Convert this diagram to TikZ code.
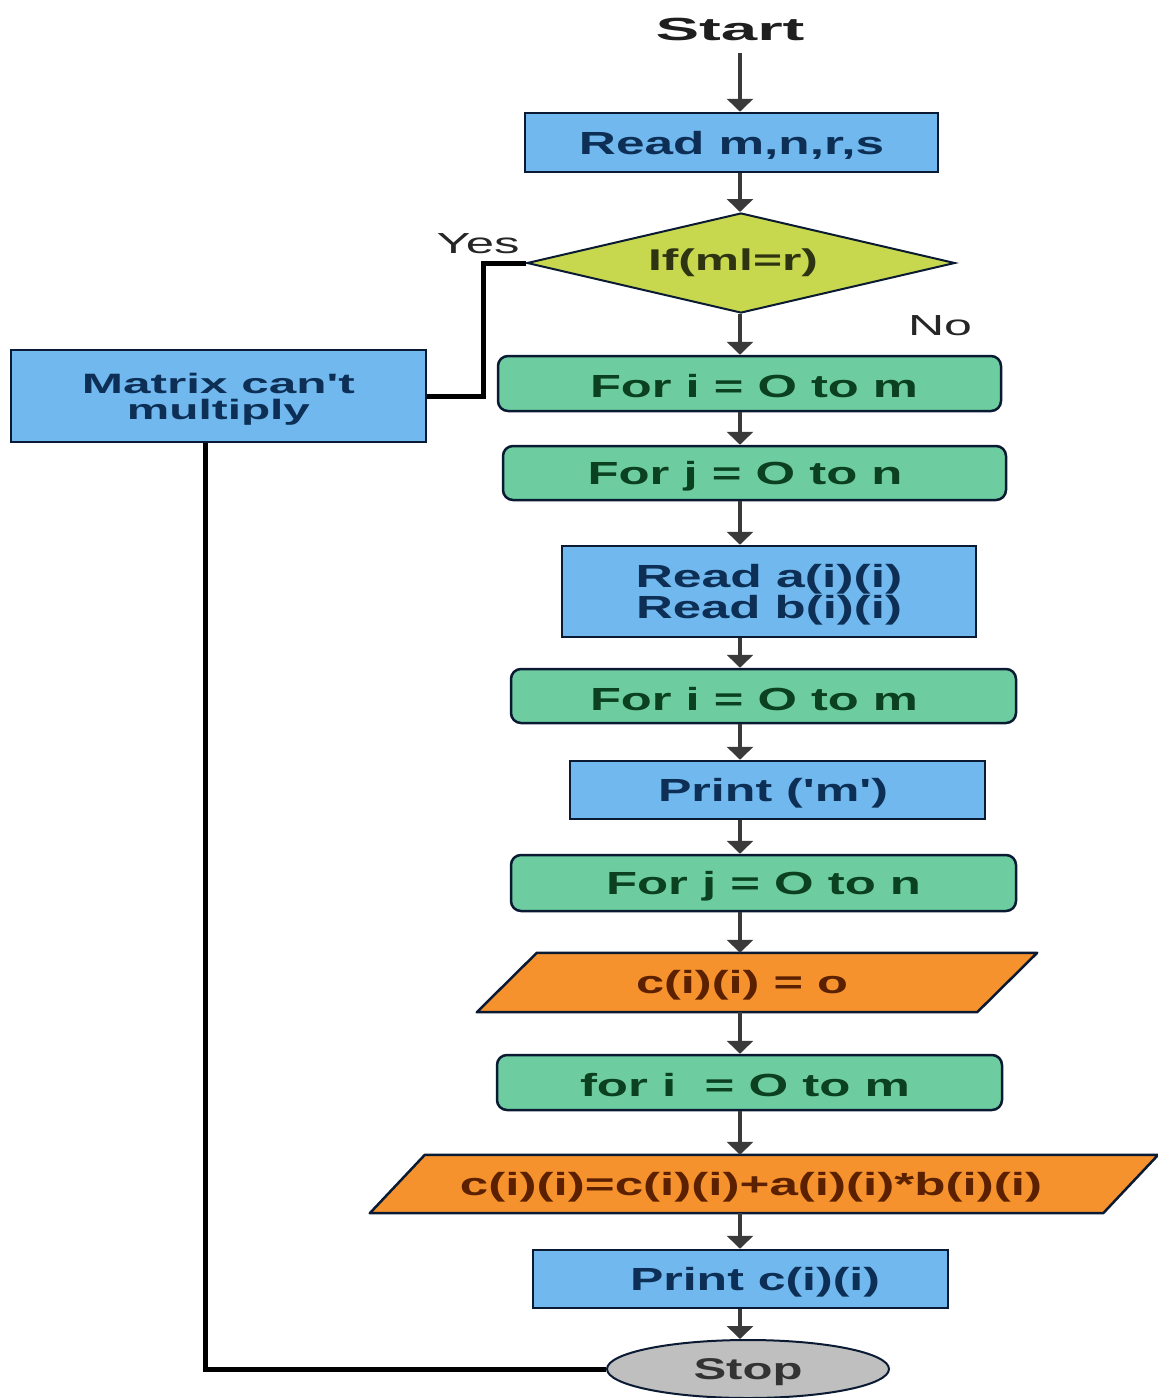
\documentclass[tikz,border=0pt]{standalone}
\usepackage{fontspec}
\setmainfont{Liberation Sans}
\usetikzlibrary{shapes.geometric,arrows.meta}
\definecolor{bfill}{HTML}{71B8EE}
\definecolor{gfill}{HTML}{6ECDA0}
\definecolor{yfill}{HTML}{C8D84E}
\definecolor{ofill}{HTML}{F5922E}
\definecolor{sfill}{HTML}{BFBFBF}
\definecolor{edge}{HTML}{0A1A33}
\definecolor{btext}{HTML}{0D2F55}
\definecolor{gtext}{HTML}{0B4020}
\definecolor{otext}{HTML}{5A2000}
\definecolor{ytext}{HTML}{2E3312}
\definecolor{arrc}{HTML}{3A3A3A}
\newcommand{\fw}[2]{\resizebox{#1pt}{\height}{#2}}
\newcommand{\fd}[2]{\raisebox{0pt}[\dimexpr\height+6pt\relax]{\resizebox{#1pt}{\height}{#2}}}
\newcommand{\sh}[2]{\ifdim#1pt>0pt\hspace*{#1pt}\hspace*{#1pt}\makebox[0pt]{#2}\else\makebox[0pt]{#2}\hspace*{-#1pt}\hspace*{-#1pt}\fi}
\tikzset{
  box/.style={rectangle, draw=edge, line width=2.5pt, inner sep=0pt, font=\fontsize{32}{28}\selectfont\bfseries},
  bluebox/.style={box, fill=bfill, text=btext},
  greenbox/.style={box, fill=gfill, text=gtext, rounded corners=10pt},
  orangebox/.style={rectangle, inner sep=0pt, text=otext, font=\fontsize{32}{28}\selectfont\bfseries},
  arr/.style={draw=arrc, line width=4pt, -{Triangle[width=26pt,length=13pt]}},
  thk/.style={draw=black, line width=5pt},
  lbl/.style={inner sep=0pt, font=\fontsize{29}{29}\selectfont, text=black!85}
}
\begin{document}
\begin{tikzpicture}[x=1pt,y=-1pt]
\useasboundingbox (0,0) rectangle (1158,1398);
\coordinate (sp) at (740,0);
\coordinate (yj) at (483,0);
\coordinate (sl) at (205,0);

\node[inner sep=0pt, font=\fontsize{32}{32}\selectfont\bfseries, text=black!88] (start) at (730,29) {\fw{149}{Start}};
\node[bluebox, minimum width=413pt, minimum height=59pt] (rd) at (731.5,142.5) {\fd{305}{Read m,n,r,s}};
\node[diamond, draw=edge, line width=2pt, fill=yfill, text=ytext, inner sep=0pt, minimum width=428pt, minimum height=100pt, font=\fontsize{30}{30}\selectfont\bfseries] (dec) at (741,263) {\sh{-8}{\fw{170}{If(ml=r)}}};
\node[lbl] (yes) at (478,244) {\fw{83}{Yes}};
\node[lbl] (no) at (940,326) {\fw{64}{No}};
\node[bluebox, minimum width=415pt, minimum height=92pt, align=center, font=\fontsize{28}{26}\selectfont\bfseries] (mx) at (218.5,396) {\rule{0pt}{26pt}\fw{273}{Matrix can\textquotesingle t}\\\fw{183}{multiply}};
\node[greenbox, minimum width=503pt, minimum height=55pt] (f1) at (749.5,383.5) {\sh{4.5}{\fd{328}{For i = O to m}}};
\node[greenbox, minimum width=503pt, minimum height=54pt] (f2) at (754.5,473) {\sh{-9.5}{\fd{315}{For j = O to n}}};
\node[bluebox, minimum width=414pt, minimum height=91pt, align=center] (rab) at (769,591.5) {\rule{0pt}{30pt}\fw{267}{Read a(i)(i)}\\\fw{266}{Read b(i)(i)}};
\node[greenbox, minimum width=505pt, minimum height=54pt] (f3) at (763.5,696) {\sh{-9.5}{\fd{328}{For i = O to m}}};
\node[bluebox, minimum width=415pt, minimum height=58pt] (pm) at (777.5,790) {\sh{-4.5}{\fd{230}{Print (\textquotesingle m\textquotesingle)}}};
\node[greenbox, minimum width=505pt, minimum height=56pt] (f4) at (763.5,883) {\fd{315}{For j = O to n}};
\node[orangebox, minimum width=560pt, minimum height=59pt] (c0) at (757,982.5) {};
\fill[ofill] ([xshift=60pt]c0.north west) -- (c0.north east) -- ([xshift=-60pt]c0.south east) -- (c0.south west) -- cycle;
\draw[edge, line width=2.5pt, line join=round] ([xshift=60pt]c0.north west) -- (c0.north east) -- ([xshift=-60pt]c0.south east) -- (c0.south west) -- cycle;
\node[orangebox, minimum width=560pt, minimum height=59pt] at (c0.center) {\sh{-15}{\fd{212}{c(i)(i) = o}}};
\node[greenbox, minimum width=505pt, minimum height=55pt] (f5) at (749.5,1082.5) {\sh{-4.5}{\fd{330}{for i \ = O to m}}};
\node[orangebox, minimum width=788pt, minimum height=58pt] (c1) at (764,1184) {};
\fill[ofill] ([xshift=55pt]c1.north west) -- (c1.north east) -- ([xshift=-55pt]c1.south east) -- (c1.south west) -- cycle;
\draw[edge, line width=2.5pt, line join=round] ([xshift=55pt]c1.north west) -- (c1.north east) -- ([xshift=-55pt]c1.south east) -- (c1.south west) -- cycle;
\node[orangebox, minimum width=788pt, minimum height=58pt] at (c1.center) {\sh{-13}{\fd{582}{c(i)(i)=c(i)(i)+a(i)(i)*b(i)(i)}}};
\node[bluebox, minimum width=415pt, minimum height=58pt] (pc) at (740.5,1279) {\sh{14.5}{\fd{250}{Print c(i)(i)}}};
\node[ellipse, draw=edge, line width=2pt, fill=sfill, text=black!80, inner sep=0pt, minimum width=282pt, minimum height=58pt, font=\fontsize{30}{30}\selectfont\bfseries] (st) at (748,1369) {\fd{109}{Stop}};

\draw[arr, shorten <=12pt] (start.south -| sp) -- (rd.north -| sp);
\draw[arr] (rd.south -| sp) -- (dec.north -| sp);
\draw[arr] (dec.south -| sp) -- (f1.north -| sp);
\draw[arr] (f1.south -| sp) -- (f2.north -| sp);
\draw[arr] (f2.south -| sp) -- (rab.north -| sp);
\draw[arr] (rab.south -| sp) -- (f3.north -| sp);
\draw[arr] (f3.south -| sp) -- (pm.north -| sp);
\draw[arr] (pm.south -| sp) -- (f4.north -| sp);
\draw[arr] (f4.south -| sp) -- (c0.north -| sp);
\draw[arr] (c0.south -| sp) -- (f5.north -| sp);
\draw[arr] (f5.south -| sp) -- (c1.north -| sp);
\draw[arr] (c1.south -| sp) -- (pc.north -| sp);
\draw[arr] (pc.south -| sp) -- (st.north -| sp);

\draw[thk] (dec.west) -- (dec.west -| yj) |- (mx.east);
\draw[thk] (mx.south -| sl) |- (st.west);
\end{tikzpicture}
\end{document}
